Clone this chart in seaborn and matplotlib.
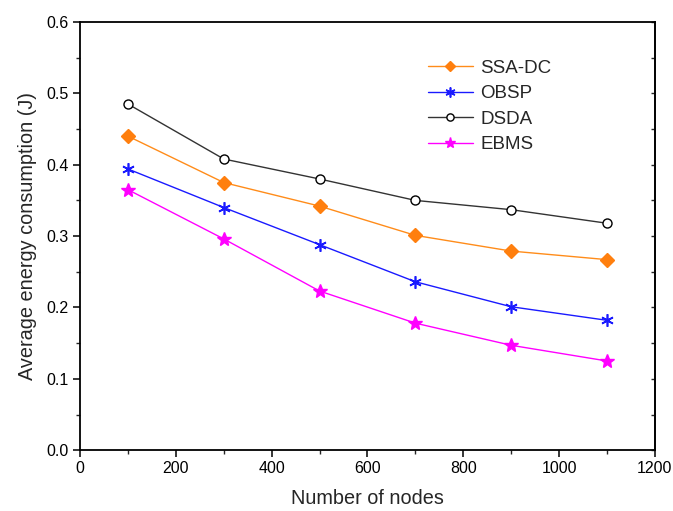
import matplotlib
matplotlib.use("Agg")
import matplotlib.pyplot as plt
import seaborn as sns
import pandas as pd
from matplotlib.ticker import MultipleLocator, FormatStrFormatter, NullFormatter

nodes = [100, 300, 500, 700, 900, 1100]
ssa_dc = [0.440, 0.375, 0.342, 0.301, 0.279, 0.267]
obsp = [0.394, 0.340, 0.288, 0.236, 0.201, 0.182]
dsda = [0.485, 0.408, 0.380, 0.350, 0.337, 0.318]
ebms = [0.365, 0.296, 0.223, 0.178, 0.147, 0.125]

series = ["SSA-DC", "OBSP", "DSDA", "EBMS"]
values = [ssa_dc, obsp, dsda, ebms]
colors = {"SSA-DC": "#ff7f0e", "OBSP": "#1a1aff", "DSDA": "#000000", "EBMS": "#ff00ff"}
line_colors = {"SSA-DC": "#ff8c1a", "OBSP": "#1a1aff", "DSDA": "#333333", "EBMS": "#ff00ff"}
markers = {"SSA-DC": "D", "OBSP": (6, 2, 0), "DSDA": "o", "EBMS": "*"}
msizes = {"SSA-DC": 7, "OBSP": 9, "DSDA": 6.5, "EBMS": 10}

rows = []
for s, v in zip(series, values):
    for n, y in zip(nodes, v):
        rows.append({"nodes": n, "energy": y, "series": s})
df = pd.DataFrame(rows)

sns.set_style("white")
plt.rcParams["font.family"] = ["Liberation Sans", "DejaVu Sans"]

fig = plt.figure(figsize=(6.73, 5.11), dpi=100)
ax = fig.add_axes([0.119, 0.119, 0.854, 0.838])

for s in series:
    sub = df[df["series"] == s]
    mfc = "white" if s == "DSDA" else colors[s]
    sns.lineplot(data=sub, x="nodes", y="energy", ax=ax, color=line_colors[s],
                 marker=markers[s], markersize=msizes[s], markerfacecolor=mfc,
                 markeredgecolor=colors[s], markeredgewidth=1.0 if s != "OBSP" else 1.2,
                 linewidth=1.0, label=s)

ax.set_xlim(0, 1200)
ax.set_ylim(0, 0.6)
ax.xaxis.set_major_locator(MultipleLocator(200))
ax.xaxis.set_minor_locator(MultipleLocator(100))
ax.yaxis.set_major_locator(MultipleLocator(0.1))
ax.yaxis.set_minor_locator(MultipleLocator(0.05))
ax.yaxis.set_major_formatter(FormatStrFormatter("%.1f"))

for sp in ax.spines.values():
    sp.set_visible(True)
    sp.set_color("black")
    sp.set_linewidth(1.3)

ax.tick_params(axis="both", which="major", direction="out", length=5, width=1.1,
               labelsize=11.5, colors="black", bottom=True, left=True, pad=3)
ax.tick_params(axis="both", which="minor", direction="out", length=3, width=1.0,
               bottom=True, left=True)

sec = ax.secondary_yaxis("right")
sec.yaxis.set_major_locator(MultipleLocator(0.05))
sec.yaxis.set_major_formatter(NullFormatter())
sec.tick_params(axis="y", which="both", direction="in", length=3, width=1.0)
sec.spines["right"].set_linewidth(1.3)

ax.set_xlabel("Number of nodes", fontsize=14.3, labelpad=9)
ax.set_ylabel("Average energy consumption (J)", fontsize=14.3, labelpad=7)

leg = ax.legend(loc="upper left", bbox_to_anchor=(0.592, 0.93), frameon=False,
                fontsize=13.5, handlelength=2.4, labelspacing=0.45, handletextpad=0.4,
                markerscale=0.8, borderaxespad=0)

fig.savefig("out.png", dpi=100)
